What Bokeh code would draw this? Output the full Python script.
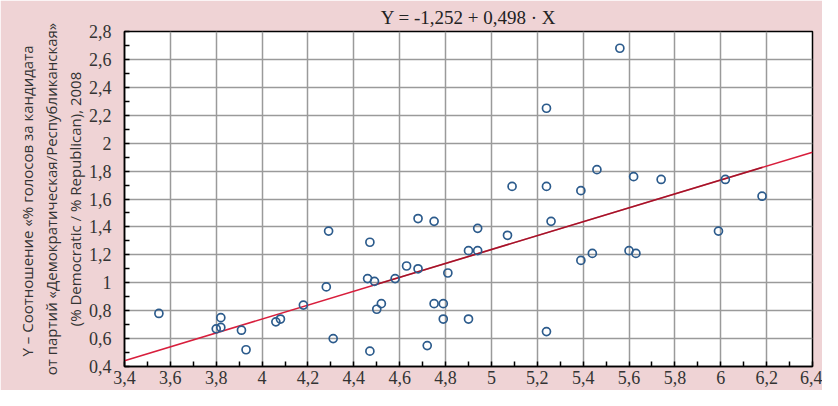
from bokeh.plotting import figure
from bokeh.embed import file_html
from bokeh.resources import INLINE
from bokeh.models import FixedTicker, Title, Range1d, ColumnDataSource

# ---- data ----
x_vals = [3.55, 3.80, 3.82, 3.82, 3.91, 3.93, 4.06, 4.08, 4.18, 4.28,
          4.29, 4.31, 4.46, 4.47, 4.47, 4.49, 4.50, 4.52, 4.58, 4.63,
          4.68, 4.68, 4.72, 4.75, 4.75, 4.79, 4.79, 4.81, 4.90, 4.90,
          4.94, 4.94, 5.07, 5.09, 5.24, 5.24, 5.24, 5.26, 5.39, 5.39,
          5.44, 5.46, 5.56, 5.60, 5.63, 5.62, 5.74, 5.99, 6.02, 6.18]
y_vals = [0.78, 0.67, 0.68, 0.75, 0.66, 0.52, 0.72, 0.74, 0.84, 0.97,
          1.37, 0.60, 1.03, 1.29, 0.51, 1.01, 0.81, 0.85, 1.03, 1.12,
          1.46, 1.10, 0.55, 1.44, 0.85, 0.85, 0.74, 1.07, 1.23, 0.74,
          1.39, 1.23, 1.34, 1.69, 2.25, 1.69, 0.65, 1.44, 1.66, 1.16,
          1.21, 1.81, 2.68, 1.23, 1.21, 1.76, 1.74, 1.37, 1.74, 1.62]

intercept = -1.252
slope = 0.498

x_ticks = [3.4, 3.6, 3.8, 4.0, 4.2, 4.4, 4.6, 4.8, 5.0, 5.2, 5.4, 5.6, 5.8, 6.0, 6.2, 6.4]
x_tick_labels = ["3,4", "3,6", "3,8", "4", "4,2", "4,4", "4,6", "4,8", "5", "5,2",
                 "5,4", "5,6", "5,8", "6", "6,2", "6,4"]
x_minor = [3.5, 3.7, 3.9, 4.1, 4.3, 4.5, 4.7, 4.9, 5.1, 5.3, 5.5, 5.7, 5.9, 6.1, 6.3]
y_ticks = [0.4, 0.6, 0.8, 1.0, 1.2, 1.4, 1.6, 1.8, 2.0, 2.2, 2.4, 2.6, 2.8]
y_tick_labels = ["0,4", "0,6", "0,8", "1", "1,2", "1,4", "1,6", "1,8", "2", "2,2",
                 "2,4", "2,6", "2,8"]
y_minor = [0.5, 0.7, 0.9, 1.1, 1.3, 1.5, 1.7, 1.9, 2.1, 2.3, 2.5, 2.7]

title_text = "Y = -1,252 + 0,498 · X"
ylab1 = "Y – Соотношение  «% голосов за кандидата"
ylab2 = "от партий «Демократическая/Республиканская»"
ylab3 = "(% Democratic / % Republican), 2008"

PINK = "#efd3d5"
SERIF = "Liberation Serif"
SANS = "Open Sans"

x_min, x_max = 3.4, 6.4
y_min, y_max = 0.4, 2.8

p = figure(width=822, height=390, x_range=Range1d(x_min, x_max), y_range=Range1d(y_min, y_max),
           output_backend="svg", toolbar_location=None,
           background_fill_color="white", border_fill_color=PINK,
           min_border_left=124, min_border_right=10, min_border_top=30, min_border_bottom=24)
p.outline_line_color = "black"
p.outline_line_width = 1.5

# title
p.title.text = title_text
p.title.align = "center"
p.title.offset = -25
p.title.text_font = SERIF
p.title.text_font_size = "19px"
p.title.text_font_style = "normal"
p.title.text_color = "#222222"
p.title.standoff = 8

# axes
for ax, ticks, minor, labels in ((p.xaxis[0], x_ticks, x_minor, x_tick_labels),
                                 (p.yaxis[0], y_ticks, y_minor, y_tick_labels)):
    ax.ticker = FixedTicker(ticks=ticks, minor_ticks=minor)
    ax.major_label_overrides = {t: l for t, l in zip(ticks, labels)}
    ax.major_label_text_font = SERIF
    ax.major_label_text_font_size = "18px"
    ax.major_label_text_color = "#333333"
    ax.axis_line_color = "black"
    ax.axis_line_width = 1.5
    ax.major_tick_in = 5
    ax.major_tick_out = 0
    ax.minor_tick_in = 5
    ax.minor_tick_out = 0
    ax.major_tick_line_color = "black"
    ax.minor_tick_line_color = "black"
    ax.major_tick_line_width = 1.5
    ax.minor_tick_line_width = 1.5
p.xaxis.major_label_standoff = 4
p.yaxis.major_label_standoff = 13

p.xgrid.ticker = FixedTicker(ticks=x_ticks)
p.ygrid.ticker = FixedTicker(ticks=y_ticks)
for g in (p.xgrid[0], p.ygrid[0]):
    g.grid_line_color = "#9a9a9a"
    g.grid_line_width = 1.5

# multi-line y label via stacked left titles (closest first)
for txt in (ylab3, ylab2, ylab1):
    t = Title(text=txt, align="center", text_font=SANS, text_font_size="15px",
              text_font_style="normal", text_color="#333333", standoff=2)
    p.add_layout(t, "left")

# regression line
lx = [x_min, x_max]
ly = [intercept + slope * v for v in lx]
p.line(lx, ly, line_color="#d81e3c", line_width=1.6)
ox = [4.5, max(x_vals)]
oy = [intercept + slope * v for v in ox]
p.line(ox, oy, line_color="#7a0a18", line_width=1.6, line_alpha=0.55)

src = ColumnDataSource(dict(x=x_vals, y=y_vals))
p.scatter("x", "y", source=src, size=8, marker="circle", fill_color=None,
          line_color="#2c5b8c", line_width=1.7)

open("out.html", "w").write(file_html(p, INLINE))
